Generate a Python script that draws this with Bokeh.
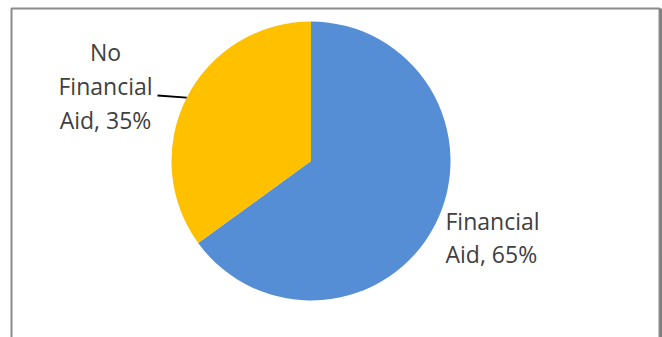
import math
from bokeh.plotting import figure
from bokeh.models import Range1d
from bokeh.core.properties import value
from bokeh.embed import file_html
from bokeh.resources import INLINE

# ---- data ----
categories = ["Financial Aid", "No Financial Aid"]
percents = [65, 35]
colors = ["#558ED5", "#FFC000"]
label_lines = [["Financial", "Aid, 65%"], ["No", "Financial", "Aid, 35%"]]

W, H = 662, 337
cx, cy, r = 310.5, H - 160.5, 139.5

p = figure(width=W, height=H, output_backend="svg", toolbar_location=None,
           x_range=Range1d(0, W), y_range=Range1d(0, H), min_border=0)
p.axis.visible = False
p.grid.visible = False
p.outline_line_color = None
p.background_fill_color = "white"
p.border_fill_color = "white"

# chart frame
p.quad(left=[11], right=[659], top=[H - 8], bottom=[-10], fill_color=None,
       line_color="#8A8A8A", line_width=2)
p.segment(x0=[660.5], y0=[H - 8], x1=[660.5], y1=[-10], line_color="#7F7F7F", line_width=2)

# pie wedges: clockwise from 12 o'clock
total = sum(percents)
starts, ends = [], []
a = math.pi / 2
for v in percents:
    starts.append(a)
    a -= v / total * 2 * math.pi
    ends.append(a)
p.wedge(x=[cx] * len(percents), y=[cy] * len(percents), radius=r,
        start_angle=starts, end_angle=ends, direction="clock",
        fill_color=colors, line_color=None)

# leader line for the "No Financial Aid" slice to the middle of its arc
mid = (starts[1] + ends[1]) / 2
ex, ey = cx + r * math.cos(mid), cy + r * math.sin(mid)
p.line(x=[157, ex], y=[H - 95, ey], line_color="#000000", line_width=1.8)

font = value("Open Sans")
txt_color = "#404040"
fs = "23px"

# label for Financial Aid (right)
for i, t in enumerate(label_lines[0]):
    p.text(x=[445], y=[H - (220 + i * 33)], text=[t], text_font=font,
           text_font_size=fs, text_color=txt_color, text_align="left",
           text_baseline="alphabetic")

# label for No Financial Aid (left)
for i, t in enumerate(label_lines[1]):
    p.text(x=[105], y=[H - (51 + i * 34)], text=[t], text_font=font,
           text_font_size=fs, text_color=txt_color, text_align="center",
           text_baseline="alphabetic")

open("out.html", "w").write(file_html(p, INLINE))
